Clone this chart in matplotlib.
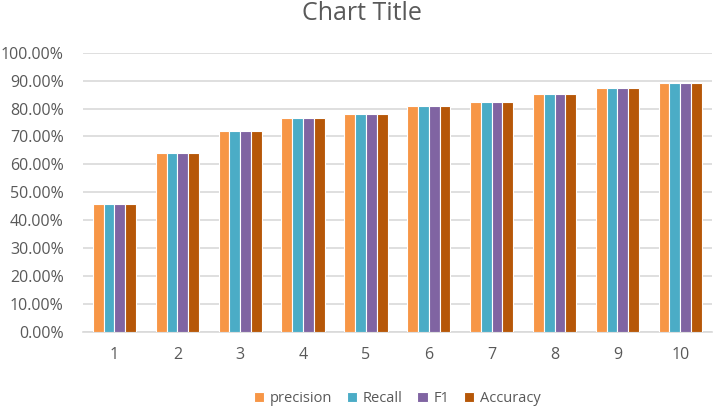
import numpy as np
import matplotlib.pyplot as plt
from matplotlib.ticker import PercentFormatter

plt.rcParams["font.family"] = ["Open Sans", "DejaVu Sans"]

categories = ["1", "2", "3", "4", "5", "6", "7", "8", "9", "10"]
precision = [45.8, 63.9, 71.8, 76.6, 78.1, 80.9, 82.3, 85.2, 87.3, 89.1]
recall = [45.8, 63.9, 71.8, 76.6, 78.1, 80.9, 82.3, 85.2, 87.3, 89.1]
f1 = [45.8, 63.9, 71.8, 76.6, 78.1, 80.9, 82.3, 85.2, 87.3, 89.1]
accuracy = [45.8, 63.9, 71.8, 76.6, 78.1, 80.9, 82.3, 85.2, 87.3, 89.1]

series = [("precision", precision, "#F79646"),
          ("Recall", recall, "#4BACC6"),
          ("F1", f1, "#8064A2"),
          ("Accuracy", accuracy, "#B65708")]

fig = plt.figure(figsize=(7.16, 4.09), dpi=100)
ax = fig.add_axes([0.116, 0.189, 0.878, 0.682])

x = np.arange(len(categories))
w = 0.172
for i, (name, vals, col) in enumerate(series):
    ax.bar(x + (i - 1.5) * w, vals, width=w, color=col, edgecolor="white",
           linewidth=0.8, label=name, zorder=3)

ax.set_xlim(-0.5, len(categories) - 0.5)
ax.set_ylim(0, 100)
ax.set_yticks(np.arange(0, 101, 10))
ax.yaxis.set_major_formatter(PercentFormatter(decimals=2))
ax.set_xticks(x)
ax.set_xticklabels(categories)
ax.grid(axis="y", color="#D9D9D9", linewidth=1.2, zorder=0)
for s in ["top", "right", "left"]:
    ax.spines[s].set_visible(False)
ax.spines["bottom"].set_color("#D9D9D9")
ax.spines["bottom"].set_linewidth(1.2)
ax.tick_params(length=0, labelsize=11.5, colors="#595959")
ax.tick_params(axis="y", pad=14)
ax.tick_params(axis="x", pad=11)

fig.text(0.506, 0.968, "Chart Title", ha="center", va="center",
         fontsize=18, color="#595959")
ax.legend(loc="upper center", bbox_to_anchor=(0.5, -0.165), ncol=4,
          frameon=False, fontsize=10.5, labelcolor="#595959", handlelength=0.7,
          handleheight=0.7, handletextpad=0.4, columnspacing=1.0)

fig.savefig("out.png", dpi=100)
